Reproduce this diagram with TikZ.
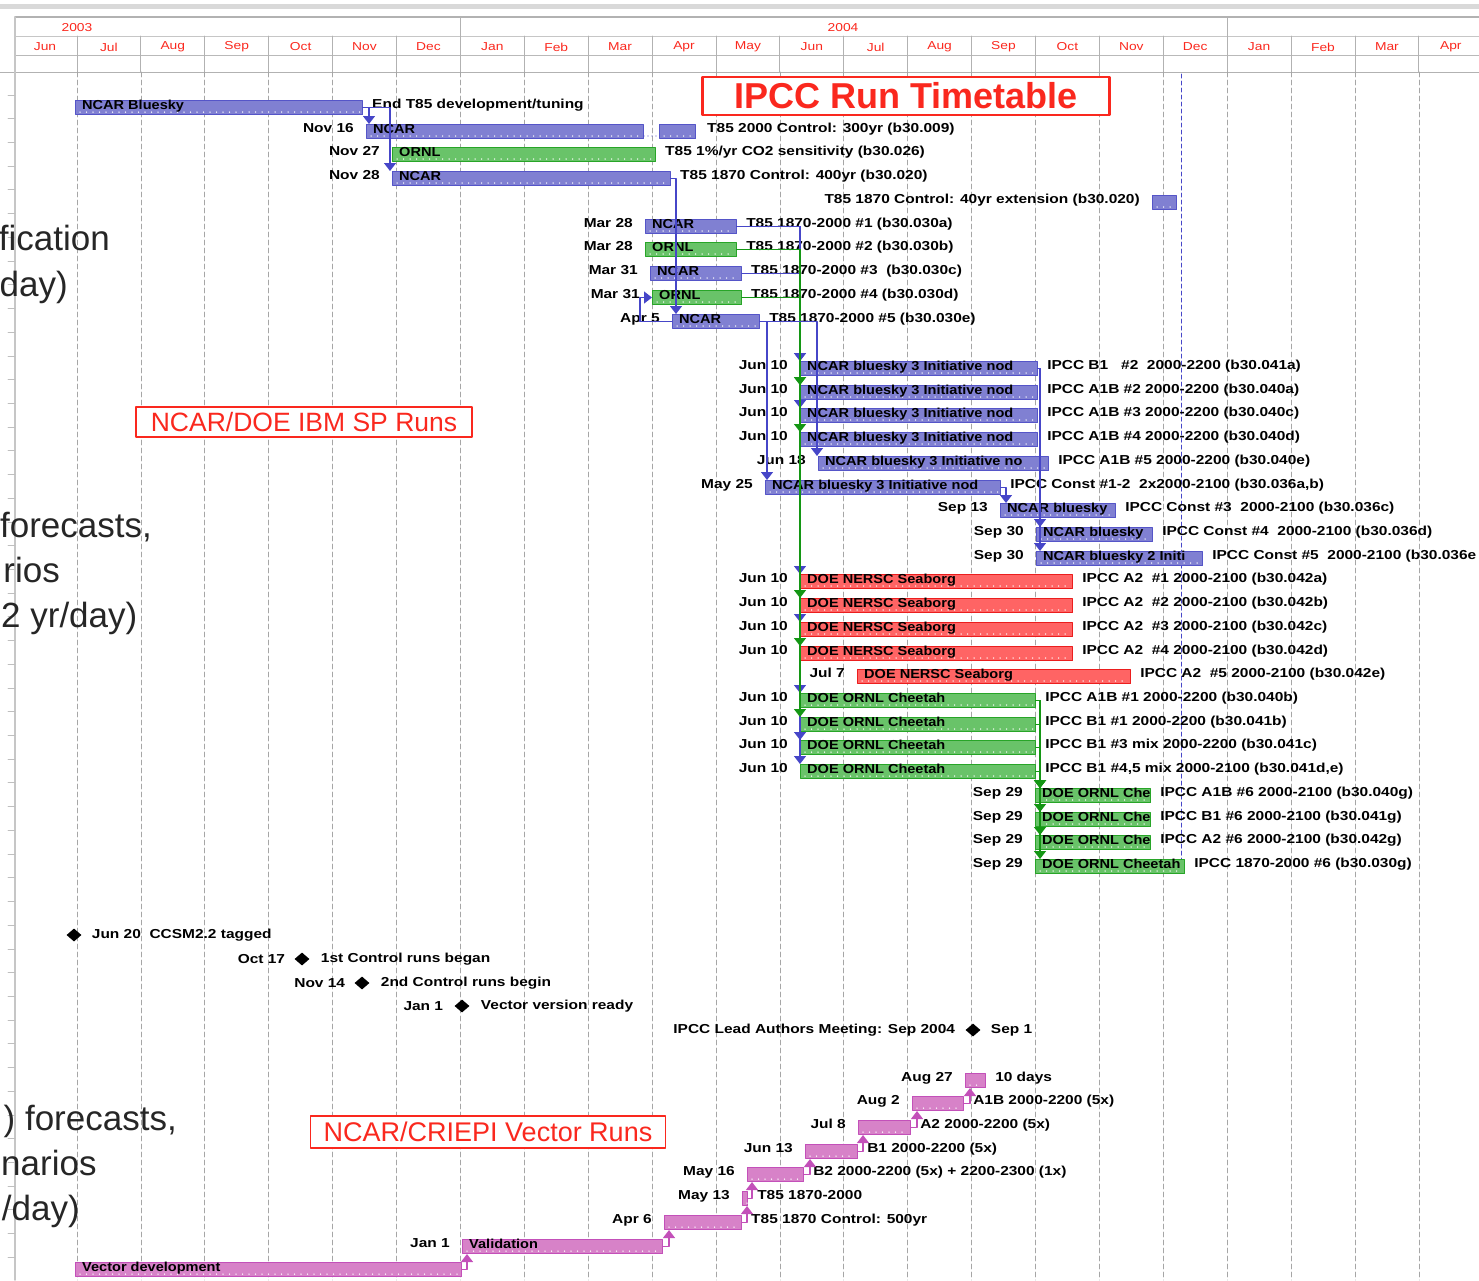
\documentclass[tikz,border=0pt]{standalone}
\usepackage{fontspec}
\setmainfont{Liberation Sans}
\usetikzlibrary{positioning, arrows.meta, shapes.geometric}

\definecolor{barblue}{RGB}{128,128,210}
\definecolor{barblueline}{RGB}{85,85,200}
\definecolor{bargreen}{RGB}{105,195,105}
\definecolor{bargreenline}{RGB}{40,165,40}
\definecolor{barred}{RGB}{255,100,100}
\definecolor{barredline}{RGB}{235,30,30}
\definecolor{barpink}{RGB}{215,130,200}
\definecolor{barpinkline}{RGB}{195,80,185}
\definecolor{linkblue}{RGB}{70,70,200}
\definecolor{linkgreen}{RGB}{20,150,20}
\definecolor{titlered}{RGB}{250,40,30}

\newcommand{\lblfont}{\fontsize{13}{14}\selectfont\bfseries}

\tikzset{
  lbl/.style={font=\lblfont, inner sep=0pt, xscale=1.19, text=black},
  monthlbl/.style={font=\fontsize{11.5}{12}\selectfont, text=titlered, inner sep=0pt, xscale=1.2},
  taskbox/.style={rectangle, minimum height=14pt, inner sep=0pt, line width=1pt},
  bluebar/.style={taskbox, fill=barblue, draw=barblueline},
  greenbar/.style={taskbox, fill=bargreen, draw=bargreenline},
  redbar/.style={taskbox, fill=barred, draw=barredline},
  pinkbar/.style={taskbox, fill=barpink, draw=barpinkline},
  progress/.style={white, line width=1.5pt, dash pattern=on 0pt off 6.5pt},
  bluelink/.style={draw=linkblue, line width=1.2pt, -{Triangle[width=12pt,length=8pt]}},
  greenlink/.style={draw=linkgreen, line width=1.4pt, -{Triangle[width=12pt,length=8pt]}},
  pinklink/.style={draw=barpinkline, line width=1.2pt, -{Triangle[width=12pt,length=8pt]}},
  milestone/.style={diamond, fill=black, minimum width=15pt, minimum height=13pt, inner sep=0pt},
  titlebox/.style={draw=titlered, text=titlered, fill=white, inner sep=0pt},
  bigtext/.style={font=\fontsize{35}{36}\selectfont, text=black!85, inner sep=0pt},
  gridline/.style={gray!70, line width=0.6pt, dash pattern=on 5pt off 3pt},
  deadline/.style={linkblue, line width=1pt, dash pattern=on 4pt off 3pt}
}

% one bar: name, row y, x start, x end, style, text inside
\newcommand{\taskbar}[6]{%
  \node[#5, minimum width={(#4-(#3))*1pt}, anchor=north west] (#1) at ({#3},{#2-4}) {};
  \draw[progress] ([xshift=5pt,yshift=3pt]#1.south west) -- ([xshift=-3pt,yshift=3pt]#1.south east);
  \node[lbl, xscale=0.94, anchor=base west] (#1-t) at ([xshift=7pt,yshift=5.5pt]#1.south west) {#6};%
}
% one row: bar plus date on the left and text on the right
\newcommand{\ganttrow}[8]{%
  \taskbar{#1}{#2}{#3}{#4}{#5}{#7}
  \node[lbl, anchor=base east] (#1-d) at ({#3-12},{#2+4.5}) {#6};
  \node[lbl, anchor=base west] (#1-n) at ({#4+10},{#2+4.5}) {#8};%
}

\begin{document}
\begin{tikzpicture}[x=1pt, y=-1pt, line cap=round, line join=round]
\useasboundingbox (0,0) rectangle (1479,1280);

% header
\fill[gray!30] (0,4) rectangle (1479,9);
\draw[gray!60, line width=1.5pt] (15,17) -- (1479,17);
\draw[gray!45, line width=1pt] (15,36) -- (1479,36);
\draw[gray!55, line width=0.8pt] (15,55) -- (1479,55);
\draw[gray!60, line width=1pt] (0,72) -- (1479,72);
\draw[gray!45, line width=1.5pt] (15,17) -- (15,1280);
\foreach \x in {460,1227} \draw[gray!60, line width=0.8pt] (\x,17) -- (\x,72);
\foreach \m in {1,...,22} \draw[gray!60, line width=0.8pt] ({13+63.9*\m},36) -- ({13+63.9*\m},72);
\foreach \mon [count=\i from 0] in {Jun,Jul,Aug,Sep,Oct,Nov,Dec,Jan,Feb,Mar,Apr,May,Jun,Jul,Aug,Sep,Oct,Nov,Dec,Jan,Feb,Mar,Apr}
  \node[monthlbl] (mon\i) at ({45+63.9*\i},47) {\mon};
\node[monthlbl] (yr2003) at (77,28) {2003};
\node[monthlbl] (yr2004) at (843,28) {2004};

% grid
\foreach \m in {1,...,22} \draw[gridline] ({13+63.9*\m},72) -- ({13+63.9*\m},1280);
\foreach \i in {0,...,49} \draw[gray!50, line width=0.8pt] (8,{95+23.72*\i}) -- (15,{95+23.72*\i});
\draw[deadline] (1181,74) -- (1181,872);

% titles
\node[titlebox, line width=2.5pt, minimum width=407pt, minimum height=38pt,
      font=\fontsize{36}{38}\selectfont\bfseries] (title) at (906,96) {IPCC Run Timetable};
\node[titlebox, line width=1.3pt, minimum width=336pt, minimum height=30pt,
      font=\fontsize{26.5}{28}\selectfont] (ibmsp) at (304,422) {NCAR/DOE IBM SP Runs};
\node[titlebox, line width=1.3pt, minimum width=355pt, minimum height=32pt,
      font=\fontsize{27}{28}\selectfont] (vector) at (488,1132) {NCAR/CRIEPI Vector Runs};

% control runs
\ganttrow{b0}{104}{75}{362}{bluebar}{}{NCAR Bluesky}{End T85 development/tuning}
\ganttrow{b1}{128}{366}{643}{bluebar}{Nov 16}{NCAR}{}
\taskbar{b1x}{128}{659}{695}{bluebar}{}
\node[lbl, anchor=base west] (b1x-n) at (707,132.5) {T85 2000 Control: 300yr (b30.009)};
\ganttrow{b2}{151}{392}{655}{greenbar}{Nov 27}{ORNL}{T85 1\%/yr CO2 sensitivity (b30.026)}
\ganttrow{b3}{175}{392}{670}{bluebar}{Nov 28}{NCAR}{T85 1870 Control: 400yr (b30.020)}
\taskbar{b4}{199}{1152}{1176}{bluebar}{}
\node[lbl, anchor=base east] (b4-n) at (1140,203.5) {T85 1870 Control: 40yr extension (b30.020)};
\ganttrow{b5}{223}{645}{736}{bluebar}{Mar 28}{NCAR}{T85 1870-2000 \#1 (b30.030a)}
\ganttrow{b6}{246}{645}{736}{greenbar}{Mar 28}{ORNL}{T85 1870-2000 \#2 (b30.030b)}
\ganttrow{b7}{270}{650}{741}{bluebar}{Mar 31}{NCAR}{T85 1870-2000 \#3\ \ (b30.030c)}
\ganttrow{b8}{294}{652}{741}{greenbar}{Mar 31}{ORNL}{T85 1870-2000 \#4 (b30.030d)}
\ganttrow{b9}{318}{672}{759}{bluebar}{Apr 5}{NCAR}{T85 1870-2000 \#5 (b30.030e)}

% scenario runs
\foreach \n/\y/\txt in {b11/365/{IPCC B1\ \ \ \#2\ \ 2000-2200 (b30.041a)},
    b12/389/{IPCC A1B \#2 2000-2200 (b30.040a)}, b13/412/{IPCC A1B \#3 2000-2200 (b30.040c)},
    b14/436/{IPCC A1B \#4 2000-2200 (b30.040d)}}
  {\ganttrow{\n}{\y}{800}{1037}{bluebar}{Jun 10}{NCAR bluesky 3 Initiative nod}{\txt}}
\ganttrow{b15}{460}{818}{1048}{bluebar}{Jun 18}{NCAR bluesky 3 Initiative no}{IPCC A1B \#5 2000-2200 (b30.040e)}
\ganttrow{b16}{484}{765}{1000}{bluebar}{May 25}{NCAR bluesky 3 Initiative nod}{IPCC Const \#1-2\ \ 2x2000-2100 (b30.036a,b)}
\ganttrow{b17}{507}{1000}{1115}{bluebar}{Sep 13}{NCAR bluesky}{IPCC Const \#3\ \ 2000-2100 (b30.036c)}
\ganttrow{b18}{531}{1036}{1152}{bluebar}{Sep 30}{NCAR bluesky}{IPCC Const \#4\ \ 2000-2100 (b30.036d)}
\ganttrow{b19}{555}{1036}{1202}{bluebar}{Sep 30}{NCAR bluesky 2 Initi}{IPCC Const \#5\ \ 2000-2100 (b30.036e}
\foreach \n/\y/\num/\sfx in {b20/578/1/a, b21/602/2/b, b22/626/3/c, b23/650/4/d}
  {\ganttrow{\n}{\y}{800}{1072}{redbar}{Jun 10}{DOE NERSC Seaborg}{IPCC A2\ \ \#\num\ 2000-2100 (b30.042\sfx)}}
\ganttrow{b24}{673}{857}{1130}{redbar}{Jul 7}{DOE NERSC Seaborg}{IPCC A2\ \ \#5 2000-2100 (b30.042e)}
\foreach \n/\y/\txt in {b25/697/{IPCC A1B \#1 2000-2200 (b30.040b)}, b26/721/{IPCC B1 \#1 2000-2200 (b30.041b)},
    b27/744/{IPCC B1 \#3 mix 2000-2200 (b30.041c)}, b28/768/{IPCC B1 \#4,5 mix 2000-2100 (b30.041d,e)}}
  {\ganttrow{\n}{\y}{800}{1035}{greenbar}{Jun 10}{DOE ORNL Cheetah}{\txt}}
\foreach \n/\y/\txt in {b29/792/{IPCC A1B \#6 2000-2100 (b30.040g)}, b30/816/{IPCC B1 \#6 2000-2100 (b30.041g)},
    b31/839/{IPCC A2 \#6 2000-2100 (b30.042g)}}
  {\ganttrow{\n}{\y}{1035}{1150}{greenbar}{Sep 29}{DOE ORNL Che}{\txt}}
\ganttrow{b32}{863}{1035}{1184}{greenbar}{Sep 29}{DOE ORNL Cheetah}{IPCC 1870-2000 \#6 (b30.030g)}

% links between runs
\draw[draw=barblueline, line width=1.3pt, dash pattern=on 0pt off 4pt] ([yshift=3pt]b1.south east) -- ([yshift=3pt]b1x.south west);
\draw[bluelink] (b0.east) -| ([xshift=3pt]b1.north west);
\draw[bluelink] (b0.east) -| ([xshift=-2pt]b3.north west);
\draw[bluelink] (b3.east) -| ([xshift=4pt]b9.north west);
\draw[bluelink] (b9.west) -- ++(-32,0) |- (b8.west);
\foreach \t in {b11,b13,b20,b22,b25,b27,b28} \draw[bluelink] (b5.east) -| (\t.north west);
\draw[bluelink] (b7.east) -| (b11.north west);
\foreach \t in {b12,b14,b21,b23,b26} \draw[greenlink] (b6.east) -| (\t.north west);
\draw[greenlink] (b8.east) -| (b12.north west);
\draw[bluelink] (b9.east) -| ([xshift=2pt]b16.north west);
\draw[bluelink] (b9.east) -| ([xshift=-1pt]b15.north west);
\draw[bluelink] (b11.east) -| ([xshift=4pt]b18.north west);
\draw[bluelink] (b11.east) -| ([xshift=4pt]b19.north west);
\draw[bluelink] (b16.east) -| ([xshift=6pt]b17.north west);
\foreach \t in {b29,b30,b31,b32} \draw[greenlink] (b25.east) -| ([xshift=5pt]\t.north west);
\foreach \s in {b26,b27,b28} \draw[greenlink] (\s.east) -| ([xshift=5pt]b29.north west);

% milestones
\node[milestone] (m1) at (74,935) {};
\node[lbl, right=10pt of m1] (m1-n) {Jun 20\ \ CCSM2.2 tagged};
\node[milestone] (m2) at (302,959) {};
\node[lbl, left=9pt of m2] (m2-d) {Oct 17};
\node[lbl, right=11pt of m2] (m2-n) {1st Control runs began};
\node[milestone] (m3) at (362,983) {};
\node[lbl, left=9pt of m3] (m3-d) {Nov 14};
\node[lbl, right=11pt of m3] (m3-n) {2nd Control runs begin};
\node[milestone] (m4) at (462,1006) {};
\node[lbl, left=11pt of m4] (m4-d) {Jan 1};
\node[lbl, right=11pt of m4] (m4-n) {Vector version ready};
\node[milestone] (m5) at (973,1030) {};
\node[lbl, left=10pt of m5] (m5-d) {IPCC Lead Authors Meeting: Sep 2004};
\node[lbl, right=10pt of m5] (m5-n) {Sep 1};

% vector runs
\ganttrow{v41}{1077}{965}{985}{pinkbar}{Aug 27}{}{10 days}
\ganttrow{v42}{1100}{912}{963}{pinkbar}{Aug 2}{}{A1B 2000-2200 (5x)}
\ganttrow{v43}{1124}{858}{910}{pinkbar}{Jul 8}{}{A2 2000-2200 (5x)}
\ganttrow{v44}{1148}{805}{857}{pinkbar}{Jun 13}{}{B1 2000-2200 (5x)}
\ganttrow{v45}{1171}{747}{803}{pinkbar}{May 16}{}{B2 2000-2200 (5x) + 2200-2300 (1x)}
\ganttrow{v46}{1195}{742}{747}{pinkbar}{May 13}{}{T85 1870-2000}
\ganttrow{v47}{1219}{664}{741}{pinkbar}{Apr 6}{}{T85 1870 Control: 500yr}
\ganttrow{v48}{1243}{462}{662}{pinkbar}{Jan 1}{Validation}{}
\ganttrow{v49}{1266}{75}{461}{pinkbar}{}{Vector development}{}
\foreach \a/\b in {v49/v48, v48/v47, v47/v46, v46/v45, v45/v44, v44/v43, v43/v42, v42/v41}
  \draw[pinklink] (\a.east) -| ([xshift=5pt]\b.south west);

% slide text behind the chart
\node[bigtext, anchor=base east] (side1a) at (110,250) {fication};
\node[bigtext, anchor=base east] (side1b) at (68,296) {day)};
\node[bigtext, anchor=base east] (side2a) at (152,537) {forecasts,};
\node[bigtext, anchor=base east] (side2b) at (60,582) {rios};
\node[bigtext, anchor=base west] (side2c) at (1,627) {2 yr/day)};
\node[bigtext, anchor=base east] (side3a) at (177,1130) {) forecasts,};
\node[bigtext, anchor=base west] (side3b) at (1,1175) {narios};
\node[bigtext, anchor=base east] (side3c) at (80,1220) {/day)};
\end{tikzpicture}
\end{document}
